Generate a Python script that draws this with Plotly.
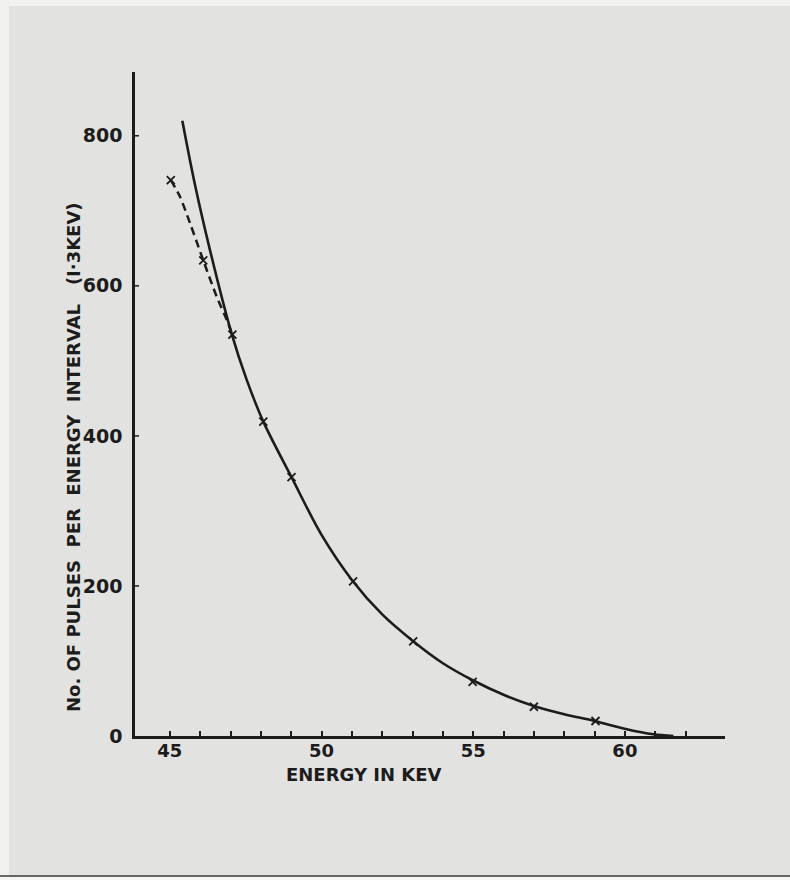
import plotly.graph_objects as go

# Measured counts (crosses)
energy_pts = [45.03, 46.1, 47.06, 48.08, 49.01, 51.04, 53.02, 54.98, 57.0, 59.03]
counts_pts = [741, 634, 535, 419, 345, 206, 126, 72, 39, 20]

# Smooth fitted curve (solid)
energy_fit = [45.41, 45.82, 46.32, 47.03, 47.53, 48.08, 49.01, 50.0, 51.0, 52.0,
              53.0, 54.0, 55.0, 56.0, 57.0, 58.0, 59.0, 60.06, 60.94, 61.6]
counts_fit = [820, 736, 648, 537, 475, 419, 345, 268, 208, 162,
              127, 97, 74, 55, 40, 29, 20, 9, 2.3, 0]

# Low-energy trend through the first points (dashed)
energy_low = [45.03, 45.33, 45.66, 46.1, 46.54, 46.87, 47.06]
counts_low = [741, 719, 684, 634, 586, 555, 535]

# Axis ticks
x_tickvals = list(range(45, 63))
x_ticktext = [str(v) if v % 5 == 0 else "" for v in x_tickvals]
y_tickvals = [0, 200, 400, 600, 800]
y_ticktext = ["0", "200", "400", "600", "800"]

ink = "#1c1c1c"
paper = "#e2e2e0"
font_family = "DejaVu Sans"
label_font = dict(size=18, family=font_family, color=ink, weight="bold")

fig = go.Figure()

fig.add_trace(go.Scatter(
    x=energy_fit, y=counts_fit, mode="lines",
    line=dict(color=ink, width=2.6, shape="spline", smoothing=0.9),
    hoverinfo="skip", showlegend=False,
))
fig.add_trace(go.Scatter(
    x=energy_low, y=counts_low, mode="lines",
    line=dict(color=ink, width=2.5, dash="8px,5px", shape="spline", smoothing=0.8),
    hoverinfo="skip", showlegend=False,
))
fig.add_trace(go.Scatter(
    x=energy_pts, y=counts_pts, mode="markers",
    marker=dict(symbol="x-thin", size=8, line=dict(color=ink, width=1.8)),
    showlegend=False,
))

fig.update_layout(
    width=790, height=880,
    margin=dict(l=135, r=65, t=72, b=144),
    paper_bgcolor=paper, plot_bgcolor=paper,
    font=dict(family=font_family, color=ink, size=18),
    xaxis=dict(
        range=[43.85, 63.3], showgrid=False, zeroline=False,
        showline=True, linecolor=ink, linewidth=2.8,
        tickmode="array", tickvals=x_tickvals, ticktext=x_ticktext,
        ticks="inside", ticklen=5, tickwidth=1.5, tickcolor=ink,
        ticklabelstandoff=-4,
        tickfont=dict(size=18, family=font_family, color=ink, weight="bold"),
    ),
    yaxis=dict(
        range=[0, 885], showgrid=False, zeroline=False,
        showline=True, linecolor=ink, linewidth=2.6,
        tickmode="array", tickvals=y_tickvals, ticktext=y_ticktext,
        ticks="outside", ticklen=0, tickwidth=1.5, tickcolor=ink,
        ticklabelstandoff=6,
        tickfont=dict(size=19, family=font_family, color=ink, weight="bold"),
    ),
    annotations=[
        dict(text="ENERGY IN KEV", xref="paper", yref="paper",
             x=(363 - 135) / 590, y=(736 - 774) / 664,
             xanchor="center", yanchor="middle", showarrow=False,
             font=label_font),
        dict(text="No. OF PULSES  PER  ENERGY  INTERVAL   (I·3KEV)",
             xref="paper", yref="paper",
             x=(73 - 135) / 590, y=(736 - 457) / 664, textangle=-90,
             xanchor="center", yanchor="middle", showarrow=False,
             font=label_font),
    ],
    shapes=[
        # small inward ticks on the count axis
        *[dict(type="line", xref="paper", yref="y", x0=0, x1=4 / 590, y0=v, y1=v,
               line=dict(color=ink, width=1.5)) for v in y_tickvals[1:]],
        # pale margins and lower edge of the sheet
        dict(type="rect", xref="paper", yref="paper", x0=-135 / 590, x1=655 / 590,
             y0=(736 - 6) / 664, y1=736 / 664, fillcolor="#f2f2f0", line=dict(width=0), layer="below"),
        dict(type="rect", xref="paper", yref="paper", x0=-135 / 590, x1=-126 / 590,
             y0=-144 / 664, y1=736 / 664, fillcolor="#f0f0ee", line=dict(width=0), layer="below"),
        dict(type="rect", xref="paper", yref="paper", x0=-135 / 590, x1=655 / 590,
             y0=-144 / 664, y1=(736 - 876) / 664, fillcolor="#f4f4f2", line=dict(width=0), layer="below"),
        dict(type="line", xref="paper", yref="paper", x0=-135 / 590, x1=655 / 590,
             y0=(736 - 876) / 664, y1=(736 - 876) / 664, line=dict(color="#3a3a3a", width=1.5)),
    ],
)

fig.write_html("out.html")
